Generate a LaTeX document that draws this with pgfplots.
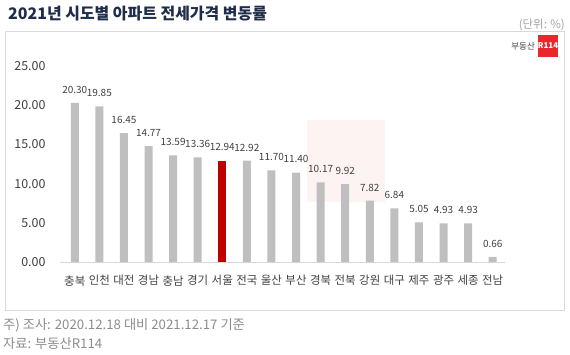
\documentclass[border=0pt]{standalone}
\usepackage{fontspec}
\setmainfont{Noto Sans CJK KR}
\usepackage{pgfplots}
\pgfplotsset{compat=1.18}
\definecolor{bargray}{HTML}{BFBFBF}
\definecolor{barred}{HTML}{C00000}
\definecolor{titleblue}{HTML}{1F2D4A}
\definecolor{txtgray}{HTML}{404040}
\definecolor{notegray}{HTML}{8C8C8C}
\definecolor{boxgray}{HTML}{D9D9D9}
\definecolor{logored}{HTML}{E8262C}
\definecolor{wmpink}{HTML}{FDF3F3}
\begin{document}
\begin{tikzpicture}[x=1bp,y=1bp]
\useasboundingbox (0,0) rectangle (570,354);
% frame
\draw[boxgray, line width=0.8bp] (5,44) rectangle (564,323);
% watermark
\fill[wmpink] (307,152) rectangle (385,234);
% title
\node[anchor=west, inner sep=0, font=\fontsize{16}{18}\selectfont\bfseries, text=titleblue] at (8,340) {2021년 시도별 아파트 전세가격 변동률};
\node[anchor=east, inner sep=0, font=\fontsize{11.5}{13}\selectfont, text=notegray!80] at (565,329) {(단위: \%)};
% logo
\fill[logored] (538,297) rectangle (558,319);
\node[inner sep=0, font=\fontsize{8}{9}\selectfont\bfseries, text=white] at (548,308) {R114};
\node[anchor=east, inner sep=0, font=\fontsize{8.5}{9}\selectfont, text=txtgray] at (535,308) {부동산};
% notes
\node[anchor=west, inner sep=0, font=\fontsize{13.3}{15}\selectfont, text=notegray] at (3,29) {주) 조사: 2020.12.18 대비 2021.12.17 기준};
\node[anchor=west, inner sep=0, font=\fontsize{13.3}{15}\selectfont, text=notegray] at (3,10) {자료: 부동산R114};
\begin{axis}[
  at={(60bp,92bp)}, anchor=south west,
  scale only axis, width=445bp, height=196bp,
  xmin=-0.6, xmax=17.5, ymin=0, ymax=25,
  axis x line*=bottom, axis y line*=left,
  x axis line style={draw=boxgray, line width=0.8bp, -},
  y axis line style={draw=none},
  xtick={0,...,17},
  xticklabels={충북,인천,대전,경남,충남,경기,서울,전국,울산,부산,경북,전북,강원,대구,제주,광주,세종,전남},
  xtick style={draw=none},
  xticklabel style={font=\fontsize{11.5}{12}\selectfont, text=txtgray, yshift=-10bp},
  ytick={0,5,10,15,20,25}, ytick style={draw=none},
  yticklabel style={font=\fontsize{12.5}{14}\selectfont, text=txtgray, /pgf/number format/.cd, fixed, fixed zerofill, precision=2, assume math mode=true},
  yticklabel shift=11bp,
  clip=false,
  nodes near coords,
  nodes near coords style={font=\fontsize{10}{11}\selectfont, text=txtgray, yshift=6bp, /pgf/number format/.cd, fixed, fixed zerofill, precision=2, assume math mode=true},
  point meta=explicit,
]
\addplot[ybar, bar width=8bp, fill=bargray, draw=none] coordinates {
(0,20.30)[20.30] (1,19.85)[19.85] (2,16.45)[16.45] (3,14.77)[14.77] (4,13.59)[13.59] (5,13.36)[13.36]
(7,12.92)[12.92] (8,11.70)[11.70] (9,11.40)[11.40] (10,10.17)[10.17] (11,9.92)[9.92] (12,7.82)[7.82]
(13,6.84)[6.84] (14,5.05)[5.05] (15,4.93)[4.93] (16,4.93)[4.93] (17,0.66)[0.66]};
\addplot[ybar, bar width=8bp, fill=barred, draw=none] coordinates {(6,12.94)[12.94]};
\end{axis}
\end{tikzpicture}
\end{document}
